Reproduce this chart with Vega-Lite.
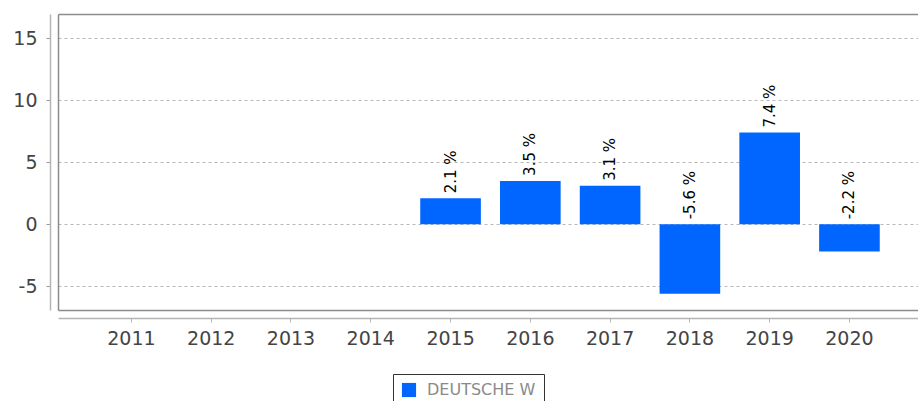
{
  "$schema": "https://vega.github.io/schema/vega-lite/v6.json",
  "width": 860,
  "height": 296,
  "autosize": "none",
  "padding": {"left": 58, "top": 14, "right": 0, "bottom": 91},
  "background": "white",
  "config": {
    "view": {"stroke": null},
    "font": "DejaVu Sans"
  },
  "data": {
    "values": [
      {"year": "2015", "value": 2.1, "label": "2.1 %", "series": "DEUTSCHE W"},
      {"year": "2016", "value": 3.5, "label": "3.5 %", "series": "DEUTSCHE W"},
      {"year": "2017", "value": 3.1, "label": "3.1 %", "series": "DEUTSCHE W"},
      {"year": "2018", "value": -5.6, "label": "-5.6 %", "series": "DEUTSCHE W"},
      {"year": "2019", "value": 7.4, "label": "7.4 %", "series": "DEUTSCHE W"},
      {"year": "2020", "value": -2.2, "label": "-2.2 %", "series": "DEUTSCHE W"}
    ]
  },
  "resolve": {"axis": {"x": "independent", "y": "independent"}},
  "layer": [
    {
      "mark": {"type": "bar", "color": "#0066ff"},
      "encoding": {
        "x": {
          "field": "year",
          "type": "ordinal",
          "scale": {
            "domain": ["2011", "2012", "2013", "2014", "2015", "2016", "2017", "2018", "2019", "2020"],
            "paddingInner": 0.24,
            "paddingOuter": 0.51,
            "align": 0.53
          },
          "axis": {
            "orient": "bottom",
            "title": null,
            "labelAngle": 0,
            "offset": 8,
            "domainColor": "#b5b5b5",
            "domainWidth": 1.5,
            "tickColor": "#b5b5b5",
            "tickSize": 4,
            "labelFontSize": 19,
            "labelColor": "#444444",
            "labelPadding": 7,
            "grid": false
          }
        },
        "y": {
          "field": "value",
          "type": "quantitative",
          "scale": {"domain": [-6.91, 16.96], "nice": false, "zero": false},
          "axis": {
            "orient": "left",
            "title": null,
            "values": [-5, 0, 5, 10, 15],
            "labelExpr": "'' + datum.value",
            "offset": 8,
            "domainColor": "#b5b5b5",
            "domainWidth": 1.5,
            "tickColor": "#999999",
            "tickSize": 4,
            "labelFontSize": 19,
            "labelColor": "#444444",
            "labelPadding": 9,
            "grid": true,
            "gridColor": "#b8b8b8",
            "gridDash": [3, 3],
            "gridWidth": 1
          }
        },
        "color": {
          "field": "series",
          "type": "nominal",
          "scale": {"range": ["#0066ff"]},
          "legend": {
            "orient": "none",
            "legendX": 335,
            "legendY": 360,
            "direction": "horizontal",
            "title": null,
            "symbolType": "square",
            "symbolSize": 200,
            "symbolStrokeWidth": 0,
            "labelFontSize": 16,
            "labelOffset": 10,
            "labelColor": "#8a8a8a",
            "strokeColor": "#333333",
            "padding": 8
          }
        }
      }
    },
    {
      "transform": [{"filter": "datum.value >= 0"}],
      "mark": {"type": "text", "angle": 270, "align": "left", "baseline": "middle", "dx": 5, "fontSize": 15, "color": "black"},
      "encoding": {
        "x": {
          "field": "year",
          "type": "ordinal",
          "axis": {"orient": "top", "title": null, "labels": false, "ticks": false, "grid": false, "offset": 0, "domainColor": "#8c8c8c", "domainWidth": 1.5}
        },
        "y": {
          "field": "value",
          "type": "quantitative",
          "axis": {"orient": "left", "title": null, "labels": false, "ticks": false, "grid": false, "offset": 0, "domainColor": "#8c8c8c", "domainWidth": 1.5}
        },
        "text": {"field": "label"}
      }
    },
    {
      "transform": [{"filter": "datum.value < 0"}],
      "mark": {"type": "text", "angle": 270, "align": "left", "baseline": "middle", "dx": 5, "fontSize": 15, "color": "black"},
      "encoding": {
        "x": {
          "field": "year",
          "type": "ordinal",
          "axis": {"orient": "bottom", "title": null, "labels": false, "ticks": false, "grid": false, "offset": 0, "domainColor": "#8c8c8c", "domainWidth": 1.5}
        },
        "y": {"datum": 0, "type": "quantitative", "axis": null},
        "text": {"field": "label"}
      }
    }
  ]
}
